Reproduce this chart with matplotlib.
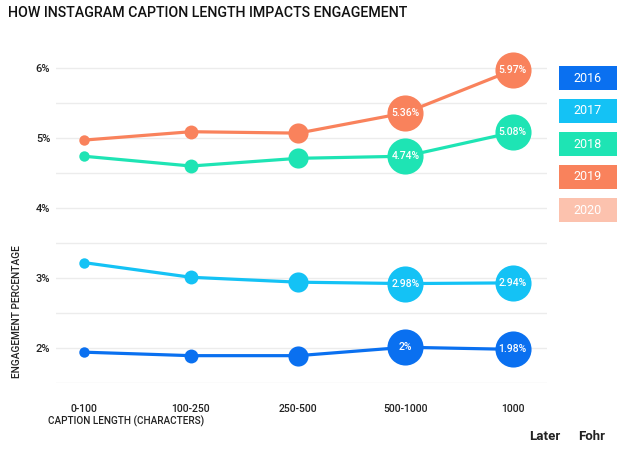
import matplotlib.pyplot as plt
from matplotlib.patches import Rectangle
from matplotlib.ticker import MultipleLocator, FuncFormatter

plt.rcParams['font.family'] = ['Roboto', 'DejaVu Sans']

categorias = ['0-100', '100-250', '250-500', '500-1000', '1000']
anios = ['2016', '2017', '2018', '2019', '2020']

v_2016 = [1.94, 1.89, 1.89, 2.01, 1.98]
v_2017 = [3.22, 3.01, 2.94, 2.92, 2.93]
v_2018 = [4.74, 4.60, 4.71, 4.74, 5.08]
v_2019 = [4.97, 5.09, 5.07, 5.36, 5.97]

et_2016 = ['', '', '', '2%', '1.98%']
et_2017 = ['', '', '', '2.98%', '2.94%']
et_2018 = ['', '', '', '4.74%', '5.08%']
et_2019 = ['', '', '', '5.36%', '5.97%']

colores = ['#0a70f0', '#14c2f5', '#1ee4b4', '#f9825c', '#fcc2ae']
tamanios = [7.5, 10, 14.5, 26, 26]  # diametro del punto segun el largo

series = [(v_2016, et_2016), (v_2017, et_2017), (v_2018, et_2018), (v_2019, et_2019)]

fig = plt.figure(figsize=(6.28, 4.5), dpi=100)
ax = fig.add_axes([0.089, 0.149, 0.782, 0.762])

x = list(range(len(categorias)))
for i, (vals, etqs) in enumerate(series):
    c = colores[i]
    ax.plot(x, vals, color=c, lw=2.3, zorder=2, clip_on=False)
    for j in x:
        ax.plot(x[j], vals[j], 'o', ms=tamanios[j], color=c, mec='none', zorder=3, clip_on=False)
        if etqs[j]:
            ax.text(x[j], vals[j], etqs[j], ha='center', va='center', color='white',
                    fontsize=7.5, fontweight='medium', zorder=4)

ax.set_xlim(-0.26, 4.32)
ax.set_ylim(1.5, 6.4)
ax.yaxis.set_major_locator(MultipleLocator(1))
ax.yaxis.set_minor_locator(MultipleLocator(0.5))
ax.yaxis.set_major_formatter(FuncFormatter(lambda v, p: '%d%%' % v if v >= 2 else ''))
ax.grid(axis='y', which='both', color='#ececec', lw=1)
ax.set_axisbelow(True)
for s in ax.spines.values():
    s.set_visible(False)
ax.tick_params(length=0, which='both')
ax.tick_params(axis='y', labelsize=8, colors='#222222', pad=4)
ax.tick_params(axis='x', labelsize=7.5, colors='#222222', pad=15)
ax.set_xticks(x)
ax.set_xticklabels(categorias, fontweight='medium')
for t in ax.get_yticklabels():
    t.set_fontweight('medium')

fig.text(0.013, 0.971, 'HOW INSTAGRAM CAPTION LENGTH IMPACTS ENGAGEMENT', fontsize=10.3,
         fontweight='medium', color='#111111', ha='left', va='center')
fig.text(0.027, 0.16, 'ENGAGEMENT PERCENTAGE', rotation=90, fontsize=7.3, fontweight='medium',
         color='#222222', ha='center', va='bottom')
fig.text(0.077, 0.063, 'CAPTION LENGTH (CHARACTERS)', fontsize=7.2, fontweight='medium',
         color='#222222', ha='left', va='center')

# leyenda
for i, a in enumerate(anios):
    y0 = 1 - (90 + 33 * i) / 450
    fig.add_artist(Rectangle((559 / 628, y0), 58 / 628, 24 / 450, transform=fig.transFigure,
                             color=colores[i], lw=0))
    fig.text((559 + 29) / 628, y0 + 12 / 450, a, color='white', fontsize=9,
             ha='center', va='center')

fig.text(0.842, 0.03, 'Later', fontsize=9.5, fontweight='bold', color='#222222', ha='left', va='center')
fig.text(0.921, 0.03, 'Fohr', fontsize=9.5, fontweight='bold', color='#222222', ha='left', va='center')

fig.savefig('out.png', dpi=100)
